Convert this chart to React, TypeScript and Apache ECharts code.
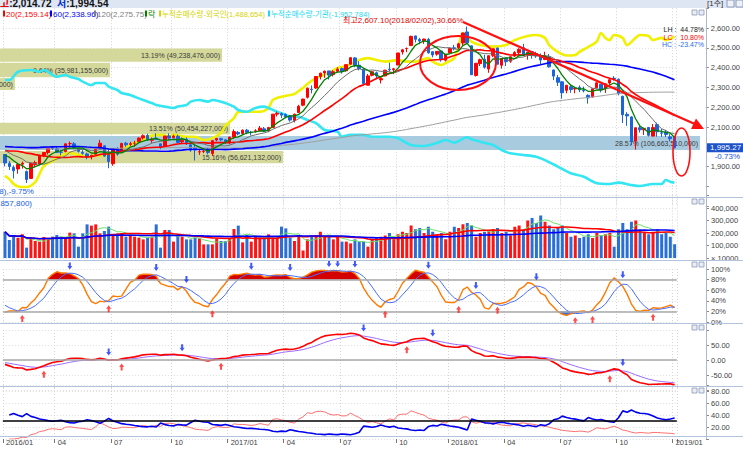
import React, { useEffect, useRef } from "react";
import * as echarts from "echarts";

// ---------- data ----------
const FIRST_WEEK = "2016-01-04";
const LAST_WEEK = "2018-12-31";
const CLOSED_WEEKS = ["2017-10-02"];

const openP = [
  1961,1916,1896,1888,1912,1875,1840,1910,1913,1955,
  1971,1994,1990,1973,1976,2016,2015,1991,1972,1964,
  1950,1962,1990,2005,1960,1915,1991,1977,2018,2012,
  2018,2025,2045,2057,2033,2043,2015,2002,2055,2046,
  2053,2025,2038,2010,1996,1974,1977,1985,1966,2034,
  2041,2035,2022,2049,2073,2067,2084,2072,2077,2082,
  2091,2081,2098,2165,2167,2163,2156,2133,2173,2210,
  2250,2291,2297,2355,2373,2383,2365,2381,2395,2384,
  2417,2449,2412,2393,2311,2361,2374,2338,2358,2392,
  2389,2413,2479,2496,2511,2560,2542,2535,2542,2480,
  2468,2484,2437,2474,2500,2500,2524,2580,2510,2360,
  2420,2442,2393,2462,2499,2412,2448,2432,2458,2475,
  2500,2466,2480,2470,2460,2441,2454,2388,2349,2328,
  2285,2303,2292,2300,2285,2260,2252,2298,2316,2293,
  2322,2346,2341,2255,2164,2151,2029,2096,2086,2098,
  2054,2112,2070,2075,2050,2050.55,
];
const highP = [
  1961,1928,1906,1912,1925,1880,1916,1930,1960,1971,
  1992,2002,2000,1985,2016,2027,2024,1995,1983,1970,
  1960,1989,2035,2007,1993,1988,1998,2020,2025,2025,
  2030,2048,2063,2066,2047,2068,2015,2056,2068,2061,
  2061,2047,2047,2016,2009,1990,1991,1994,2031,2045,
  2045,2038,2050,2088,2080,2087,2090,2080,2089,2105,
  2100,2101,2165,2178,2173,2169,2161,2167,2212,2243,
  2299,2310,2355,2374,2385,2383,2387,2402,2400,2415,
  2452,2453,2432,2397,2368,2382,2380,2352,2389,2425,
  2398,2474,2492,2501,2561,2561,2550,2546,2550,2483,
  2483,2489,2468,2500,2515,2525,2575,2607.1,2510,2422,
  2445,2465,2462,2494,2500,2447,2450,2455,2483,2498,
  2520,2478,2483,2480,2471,2480,2469,2390,2363,2332,
  2312,2310,2300,2310,2304,2265,2293,2325,2316,2320,
  2340,2357,2345,2258,2175,2154,2097,2108,2096,2099,
  2115,2122,2090,2086,2064,2053.45,
];
const lowP = [
  1901,1883,1840,1864,1890,1817,1838,1896,1908,1948,
  1961,1983,1970,1957,1972,1995,1990,1971,1960,1937,
  1936,1960,1988,1950,1892,1904,1955,1975,2000,2004,
  2000,2023,2037,2031,2020,2035,1988,2000,2035,2042,
  2020,2016,2009,1975,1931,1959,1968,1962,1954,2028,
  2028,2015,2012,2040,2058,2060,2063,2058,2072,2078,
  2075,2074,2096,2153,2145,2145,2127,2123,2173,2205,
  2244,2270,2292,2340,2348,2340,2355,2377,2370,2380,
  2415,2403,2386,2318,2311,2356,2341,2320,2356,2381,
  2367,2413,2466,2478,2509,2527,2518,2520,2470,2452,
  2460,2430,2431,2474,2487,2493,2510,2522,2363,2355,
  2408,2395,2374,2453,2416,2395,2408,2424,2454,2465,
  2459,2440,2445,2449,2416,2438,2400,2337,2307,2243,
  2270,2273,2270,2276,2275,2218,2248,2296,2275,2272,
  2313,2334,2260,2120,2106,2008,1986,2072,2060,2052,
  2053,2051,2050,2049,2027,1992,
];
const closeP = [
  1918,1900,1879,1912,1917,1835,1916,1920,1955,1971,
  1992,1992,1972,1972,2015,2016,1994,1977,1967,1948,
  1957,1986,2018,1953,1926,1987,1963,2017,2010,2016,
  2018,2044,2056,2038,2038,2038,1999,2054,2044,2054,
  2022,2033,2019,1983,1984,1975,1979,1971,2031,2042,
  2035,2026,2049,2077,2065,2084,2073,2072,2081,2094,
  2079,2097,2165,2169,2160,2152,2135,2165,2205,2241,
  2296,2289,2355,2372,2382,2362,2379,2392,2380,2415,
  2450,2410,2395,2320,2358,2379,2358,2344,2387,2389,
  2394,2474,2490,2497,2558,2543,2534,2544,2475,2464,
  2482,2440,2467,2497,2496,2520,2575,2525,2364,2422,
  2440,2402,2460,2495,2417,2446,2430,2455,2476,2492,
  2461,2478,2461,2461,2438,2452,2404,2357,2326,2273,
  2311,2289,2295,2288,2283,2247,2293,2323,2288,2318,
  2339,2343,2268,2162,2156,2027,2096,2086,2092,2058,
  2097,2076,2069,2062,2041,1995.27,
];
// weekly volume, in units of 10,000 shares
const volume = [
  210000,144000,178000,162000,190000,83000,157000,136000,131000,168000,
  152000,171000,184000,171000,152000,203000,197000,91000,197000,269000,
  259000,269000,197000,216000,251000,189000,197000,197000,171000,179000,
  171000,163000,149000,163000,171000,269000,83000,224000,224000,131000,
  184000,171000,149000,149000,163000,157000,109000,109000,109000,157000,
  136000,136000,157000,232000,259000,125000,184000,131000,179000,163000,
  163000,189000,163000,163000,251000,237000,163000,136000,184000,60000,
  149000,184000,184000,210000,171000,171000,149000,171000,131000,131000,
  117000,149000,131000,131000,91000,150000,160000,170000,180000,200000,
  150000,190000,210000,200000,260000,230000,240000,200000,250000,210000,
  190000,200000,150000,210000,250000,240000,270000,280000,260000,170000,
  200000,210000,220000,230000,240000,200000,210000,180000,250000,260000,
  230000,300000,320000,280000,340000,290000,260000,230000,240000,260000,
  200000,170000,180000,160000,170000,190000,160000,200000,180000,190000,
  200000,90000,230000,280000,230000,290000,300000,230000,200000,190000,
  210000,230000,190000,200000,170000,110000,
];
// weekly closes before the first visible week (2013-09 .. 2015-12), used by the moving averages
const histClose = [
  1933,1953,2009,2007,1997,2018,2040,2052,2040,2039,2001,2019,2044,1986,1990,1975,2011,1967,
  1958,1946,1947,1910,1907,1930,1940,1980,1954,1932,1939,1970,1985,1997,2006,2004,1963,
  1959,2010,2016,2017,1995,2011,1990,2002,2010,2009,2012,2033,2073,2031,2060,2066,2068,
  2051,2047,2048,2020,1976,1968,1940,1931,1964,1939,1953,1970,1981,1965,1921,1930,1927,1915,
  1902,1888,1952,1950,1948,1952,1961,1985,1998,1985,2037,2031,2029,2050,2087,2144,2127,
  2105,2106,2143,2114,2055,2052,2042,2090,2053,2031,2074,2073,2031,2011,1983,1876,1937,1886,
  1941,1996,1942,1963,2019,2034,2040,2029,2043,1998,1990,2022,1991,1948,1969,1990,1961,
];
// cumulative net buying (drawn on their own hidden scale): [week index, level]
const foreignNet = [
  [0,1853],[1,1837],[2,1812],[3,1800],[5,1797],[7,1822],[8,1863],[9,1903],[11,1928],[13,1956],
  [15,1969],[17,1959],[19,1950],[21,1956],[24,1959],[26,1969],[28,1999],[30,2019],[32,2034],[33,2051],
  [36,2060],[38,2051],[39,2060],[42,2051],[44,2051],[46,2034],[48,2044],[50,2070],[51,2105],[53,2145],
  [54,2176],[56,2177],[59,2177],[61,2196],[62,2236],[64,2253],[67,2267],[68,2282],[69,2297],[70,2317],
  [72,2347],[75,2373],[77,2398],[79,2408],[82,2438],[84,2448],[86,2438],[88,2430],[91,2438],[93,2430],
  [95,2430],[98,2448],[99,2430],[101,2413],[102,2423],[104,2448],[105,2506],[106,2575],[107,2556],[108,2531],
  [110,2514],[113,2506],[116,2514],[118,2539],[121,2560],[123,2565],[125,2550],[126,2514],[128,2479],[130,2461],
  [132,2464],[133,2479],[135,2504],[137,2531],[138,2575],[139,2550],[140,2539],[141,2565],[143,2550],[144,2514],
  [146,2550],[147,2565],[149,2560],[150,2539],[152,2550],[153,2539],[155,2556],
];
const instNet = [
  [0,2337],[1,2337],[3,2379],[6,2388],[8,2379],[9,2388],[11,2363],[12,2354],[14,2363],[15,2354],
  [17,2342],[18,2329],[20,2312],[21,2322],[23,2322],[24,2304],[26,2287],[27,2272],[29,2262],[30,2253],
  [32,2236],[34,2221],[35,2211],[37,2203],[39,2196],[40,2203],[42,2211],[43,2228],[45,2236],[47,2228],
  [48,2236],[50,2228],[51,2221],[53,2203],[54,2186],[56,2177],[58,2196],[60,2203],[61,2196],[63,2177],
  [65,2161],[66,2152],[68,2152],[70,2135],[72,2120],[74,2085],[77,2076],[78,2051],[80,2060],[83,2060],
  [85,2051],[89,2051],[91,2043],[94,2009],[97,2004],[100,2019],[102,2034],[104,2021],[107,2048],[108,2038],
  [110,2026],[113,2009],[115,1984],[117,1967],[120,1959],[123,1950],[125,1933],[128,1900],[131,1866],[134,1849],
  [137,1816],[140,1812],[142,1819],[145,1807],[147,1802],[150,1812],[152,1812],[153,1832],[154,1824],[155,1819],
];
// volume-at-price profile: price range, share of turnover, amount, drawn length (share units)
const profLow = [2430, 2351, 2287, 2063, 1984, 1917];
const profHigh = [2497, 2425, 2347, 2122, 2055, 1979];
const profPct = [13.19, 9.64, 7.84, 13.51, 28.57, 15.16];
const profAmt = ["49,238,476,000", "35,981,155,000", "29,262,180,000", "50,454,227,000", "106,663,510,000", "56,621,132,000"];
const profLen = [9.06, 4.49, 0.61, 9.39, 28.57, 11.55];

const PERIOD_LOW = 1800.75;
const PERIOD_LOW_DATE = "2015/08/28";
const DAY_CHANGE = "-0.73%";
const HEADER_HIGH = "2,014.72";
const HEADER_LOW = "1,994.54";
const LEGEND = [
  { text: "20(2,159.14)", color: "#ff0000" },
  { text: "60(2,338.96)", color: "#0000ff" },
  { text: "120(2,275.75)", color: "#808080" },
  { text: "락", color: "#008000" },
  { text: "누적순매수량-외국인(1,488,654)", color: "#d4d400" },
  { text: "누적순매수량-기관(-1,952,784)", color: "#22d8f0" },
];
const VOLUME_LEGEND = "거래량(213,857,800)";

// ---------- helpers ----------
const FONT = '"Liberation Sans","Noto Sans CJK KR",sans-serif';

function buildWeeks(): string[] {
  const out: string[] = [];
  const d = new Date(FIRST_WEEK + "T00:00:00Z");
  const end = new Date(LAST_WEEK + "T00:00:00Z");
  while (d <= end) {
    const s = d.toISOString().slice(0, 10);
    if (!CLOSED_WEEKS.includes(s)) out.push(s);
    d.setUTCDate(d.getUTCDate() + 7);
  }
  return out;
}
const weeks = buildWeeks();
const friday = (s: string) => {
  const d = new Date(s + "T00:00:00Z");
  d.setUTCDate(d.getUTCDate() + 4);
  return d;
};
const fmon = (i: number) => friday(weeks[i]).getUTCMonth() + 1;
const isQuarterTick = (i: number) => {
  if (i === 0) return true;
  const m = fmon(i);
  return m !== fmon(i - 1) && (m === 1 || m === 4 || m === 7 || m === 10);
};
const tickLabel = (i: number) => {
  const f = friday(weeks[i]);
  const m = f.getUTCMonth() + 1;
  return m === 1 ? `${f.getUTCFullYear()}/01` : String(m).padStart(2, "0");
};
const fmtN = (v: number, d = 2) =>
  v.toLocaleString("en-US", { minimumFractionDigits: d, maximumFractionDigits: d });

const H0 = histClose.length;
const allC = histClose.concat(closeP);
const allH = histClose.concat(highP);
const allL = histClose.concat(lowP);
function smaAt(arr: number[], n: number, i: number) {
  let s = 0, c = 0;
  for (let k = Math.max(0, i - n + 1); k <= i; k++) { s += arr[k]; c++; }
  return s / c;
}
const priceMA = (n: number) => closeP.map((_, j) => +smaAt(allC, n, H0 + j).toFixed(2));
const volMA = (n: number) => volume.map((_, j) => Math.round(smaAt(volume, n, j)));
function ema(arr: number[], n: number) {
  const a = 2 / (n + 1);
  const out: number[] = [];
  arr.forEach((v, i) => out.push(i === 0 ? v : out[i - 1] + a * (v - out[i - 1])));
  return out;
}
// slow stochastic (10,5,5)
const fastK = allC.map((c, i) => {
  let hh = -Infinity, ll = Infinity;
  for (let k = Math.max(0, i - 9); k <= i; k++) { hh = Math.max(hh, allH[k]); ll = Math.min(ll, allL[k]); }
  return hh === ll ? 50 : ((c - ll) / (hh - ll)) * 100;
});
const slowKAll = fastK.map((_, i) => smaAt(fastK, 5, i));
const slowDAll = slowKAll.map((_, i) => smaAt(slowKAll, 5, i));
const stK = slowKAll.slice(H0).map((v) => +v.toFixed(2));
const stD = slowDAll.slice(H0).map((v) => +v.toFixed(2));
// MACD (12,26,9)
const e12 = ema(allC, 12), e26 = ema(allC, 26);
const macdAll = e12.map((v, i) => v - e26[i]);
const sigAll = ema(macdAll, 9);
const macd = macdAll.slice(H0).map((v) => +v.toFixed(2));
const macdSig = sigAll.slice(H0).map((v) => +v.toFixed(2));
// DMI (14)
const pDI: (number | null)[] = [null], mDI: (number | null)[] = [null];
{
  const n = 14;
  let trS = 0, pS = 0, mS = 0;
  for (let i = 1; i < closeP.length; i++) {
    const up = highP[i] - highP[i - 1], dn = lowP[i - 1] - lowP[i];
    const pdm = up > dn && up > 0 ? up : 0;
    const mdm = dn > up && dn > 0 ? dn : 0;
    const tr = Math.max(highP[i] - lowP[i], Math.abs(highP[i] - closeP[i - 1]), Math.abs(lowP[i] - closeP[i - 1]));
    if (i === 1) { trS = tr * n; pS = pdm * n; mS = mdm * n; }
    else { trS = trS - trS / n + tr; pS = pS - pS / n + pdm; mS = mS - mS / n + mdm; }
    pDI.push(+((100 * pS) / trS).toFixed(2));
    mDI.push(+((100 * mS) / trS).toFixed(2));
  }
}
function crosses(a: number[], b: number[], hiGate: number, loGate: number) {
  const dn: number[][] = [], up: number[][] = [];
  for (let i = 1; i < a.length; i++) {
    if (a[i - 1] >= b[i - 1] && a[i] < b[i] && a[i] > hiGate) dn.push([i, Math.max(a[i - 1], b[i - 1])]);
    if (a[i - 1] <= b[i - 1] && a[i] > b[i] && a[i] < loGate) up.push([i, Math.min(a[i - 1], b[i - 1])]);
  }
  return { dn, up };
}
const stX = crosses(stK, stD, 50, 50);
const mcX = crosses(macd, macdSig, -1e9, 1e9);

const ARROW = "path://M5,0 L10,6 L7,6 L7,12 L3,12 L3,6 L0,6 Z";

// ---------- layout ----------
const GL = 2.84, GR = 66.2;
const AXIS_OFF = 29.2;
const BAND_FULL = 700;

export default function App() {
  const ref = useRef<HTMLDivElement>(null);
  useEffect(() => {
    const chart = echarts.init(ref.current!, null, { renderer: "svg" });
    const N = weeks.length;
    const ma5 = priceMA(5), ma10 = priceMA(10), ma20 = priceMA(20), ma60 = priceMA(60), ma120 = priceMA(120);
    const lastClose = closeP[N - 1];
    const maxHigh = Math.max(...highP);
    const maxIdx = highP.indexOf(maxHigh);
    const maxDate = friday(weeks[maxIdx]).toISOString().slice(0, 10).replace(/-/g, "/");
    const maxLabel = `최고${fmtN(maxHigh)}(${maxDate}),${((maxHigh / lastClose - 1) * 100).toFixed(2)}%`;
    const minLabel = `최저${fmtN(PERIOD_LOW)}(${PERIOD_LOW_DATE}),${((PERIOD_LOW / lastClose - 1) * 100).toFixed(2)}%`;
    const LH = ((maxHigh / PERIOD_LOW - 1) * 100).toFixed(2);
    const LC = ((lastClose / PERIOD_LOW - 1) * 100).toFixed(2);
    const HC = ((lastClose / maxHigh - 1) * 100).toFixed(2);

    const grids = [
      { left: GL, right: GR, top: 8.2, height: 198 },
      { left: GL, right: GR, top: 195.5, height: 62.5 },
      { left: GL, right: GR, top: 269, height: 53 },
      { left: GL, right: GR, top: 330, height: 60 },
      { left: GL, right: GR, top: 385, height: 54 },
    ];
    const xAxes = grids.map((_, g) => ({
      type: "category",
      gridIndex: g,
      data: weeks,
      boundaryGap: true,
      axisLine: { show: false },
      axisTick: g === 4 ? { show: true, interval: (i: number) => isQuarterTick(i), length: 4, lineStyle: { color: "#777" } } : { show: false },
      axisLabel: g === 4
        ? { show: true, interval: (i: number) => isQuarterTick(i), formatter: (_v: string, i: number) => tickLabel(i), align: "left", margin: 0, padding: [0, 0, 0, 1], fontSize: 7.5, color: "#444", fontFamily: FONT }
        : { show: false },
      splitLine: { show: true, interval: (i: number) => isQuarterTick(i), lineStyle: { color: "#d4d4d4", type: [1, 2], width: 1 } },
    }));
    const rightAxis = (g: number, min: number, max: number, interval: number, fmt: (v: number) => string, splitColors?: string[]) => ({
      type: "value",
      gridIndex: g,
      position: "right",
      offset: AXIS_OFF,
      min, max, interval,
      axisLine: { show: true, lineStyle: { color: "#aab8d0" } },
      axisTick: { show: true, length: 3, lineStyle: { color: "#888" } },
      axisLabel: { fontSize: 7.5, color: "#444", margin: 5, fontFamily: FONT, formatter: fmt },
      splitLine: { show: true, lineStyle: { color: splitColors || "#dcdcdc", type: [1, 2] } },
    });
    const mainSplit = ["transparent", "#dcdcdc", "#dcdcdc", "#dcdcdc", "#dcdcdc", "#dcdcdc", "#dcdcdc", "#dcdcdc", "#dcdcdc", "#dcdcdc", "transparent"];
    const yAxes = [
      rightAxis(0, 1700, 2700, 100, (v) => (v <= 1800 || v >= 2700 || v === 2000 ? "" : fmtN(v)), mainSplit),
      { type: "value", gridIndex: 0, min: 1700, max: 2700, show: false },
      rightAxis(1, 0, 500000, 100000, (v) => (v === 0 ? "× 10000" : v >= 500000 ? "" : fmtN(v, 0))),
      rightAxis(2, 0, 100, 20, (v) => `${v}%`),
      rightAxis(3, -100, 100, 50, (v) => (Math.abs(v) >= 100 ? "" : fmtN(v))),
      rightAxis(4, 0, 90, 20, (v) => (v === 0 || v > 80 ? "" : fmtN(v))),
    ];

    const line = (name: string, data: any[], xi: number, yi: number, color: string, width: number, z = 4, extra: any = {}) => ({
      name, type: "line", data, xAxisIndex: xi, yAxisIndex: yi, showSymbol: false, z,
      lineStyle: { color, width }, itemStyle: { color }, silent: true, ...extra,
    });

    const bandData = profLow.map((lo, i) => [0, lo, profHigh[i], profLen[i], i]);
    const maxPct = Math.max(...profPct);

    const series: any[] = [
      {
        type: "custom", xAxisIndex: 0, yAxisIndex: 0, z: 1, clip: false, silent: true,
        data: bandData, encode: { x: 0, y: 1 },
        renderItem: (_p: any, api: any) => {
          const i = api.value(4);
          const yTop = api.coord([0, api.value(2)])[1];
          const yBot = api.coord([0, api.value(1)])[1];
          const w = (api.value(3) / maxPct) * BAND_FULL;
          return {
            type: "group",
            children: [
              { type: "rect", shape: { x: 0, y: yTop, width: w, height: yBot - yTop }, style: { fill: profPct[i] === maxPct ? "#a9cbe0" : "#d4d99b" } },
              { type: "text", style: { text: `${profPct[i].toFixed(2)}% (${profAmt[i]})`, x: w - 2, y: (yTop + yBot) / 2 + 0.5, align: "right", verticalAlign: "middle", fill: "#3a3a3a", font: `7px ${FONT}` } },
            ],
          };
        },
      },
      line("foreign", foreignNet, 0, 1, "#f0f000", 2.6, 2, { smooth: 0.3 }),
      line("inst", instNet, 0, 1, "#33e6f2", 2.6, 2, { smooth: 0.3 }),
      {
        type: "candlestick", xAxisIndex: 0, yAxisIndex: 0, z: 3, barWidth: 3,
        data: closeP.map((c, i) => [openP[i], c, lowP[i], highP[i]]),
        itemStyle: { color: "#ff0000", color0: "#1a64dc", borderColor: "#ff0000", borderColor0: "#1a64dc", borderWidth: 1 },
        markPoint: {
          symbol: "circle", symbolSize: 1, itemStyle: { color: "transparent" },
          data: [{ coord: [maxIdx, maxHigh], label: { show: true, formatter: maxLabel, position: "left", distance: 3, offset: [0, -6], color: "#e00000", fontSize: 8, fontFamily: FONT } }],
        },
      },
      line("ma120", ma120, 0, 0, "#a0a0a0", 1, 4),
      line("ma60", ma60, 0, 0, "#0000ff", 1.6, 4),
      line("ma20", ma20, 0, 0, "#ff0000", 1.6, 4),
      line("ma10", ma10, 0, 0, "#6e6e6e", 1, 4),
      line("ma5", ma5, 0, 0, "#008000", 1.3, 5),
      {
        type: "bar", xAxisIndex: 1, yAxisIndex: 2, barWidth: 3, z: 2, silent: true,
        data: volume.map((v, i) => ({ value: v, itemStyle: { color: closeP[i] >= openP[i] ? "#ff1414" : "#2a6fd6" } })),
      },
      line("vma5", volMA(5), 1, 2, "#6be06b", 1, 3),
      line("vma20", volMA(20), 1, 2, "#ff0000", 1.6, 3),
      line("vma60", volMA(60), 1, 2, "#0000ff", 1.6, 3),
      // stochastic fills
      line("hiBase", stK.map((v) => Math.min(v, 80)), 2, 3, "transparent", 0, 1, { stack: "hi" }),
      line("hiFill", stK.map((v) => Math.max(v - 80, 0)), 2, 3, "transparent", 0, 1, { stack: "hi", areaStyle: { color: "#d40000", opacity: 1 } }),
      line("loBase", stK.map((v) => Math.min(v, 20)), 2, 3, "transparent", 0, 1, { stack: "lo" }),
      line("loFill", stK.map((v) => Math.max(20 - v, 0)), 2, 3, "transparent", 0, 1, { stack: "lo", areaStyle: { color: "#3a6fe0", opacity: 1 } }),
      line("stK", stK, 2, 3, "#ff7a00", 1.4, 4, {
        markLine: { silent: true, symbol: "none", label: { show: false }, lineStyle: { color: "#a8a8a8", width: 1.5, type: "solid" }, data: [{ yAxis: 80 }, { yAxis: 20 }] },
      }),
      line("stD", stD, 2, 3, "#4a6cff", 1, 4),
      { type: "scatter", xAxisIndex: 2, yAxisIndex: 3, z: 6, symbol: ARROW, symbolSize: [5, 7], symbolRotate: 180, symbolOffset: [0, -7], itemStyle: { color: "#1030ff" }, data: stX.dn, silent: true },
      { type: "scatter", xAxisIndex: 2, yAxisIndex: 3, z: 6, symbol: ARROW, symbolSize: [5, 7], symbolOffset: [0, 7], itemStyle: { color: "#ff2020" }, data: stX.up, silent: true },
      line("macd", macd, 3, 4, "#ff0000", 1.6, 4, {
        markLine: { silent: true, symbol: "none", label: { show: false }, lineStyle: { color: "#a8a8a8", width: 1.5, type: "solid" }, data: [{ yAxis: 0 }] },
      }),
      line("signal", macdSig, 3, 4, "#9a6cff", 1, 3),
      { type: "scatter", xAxisIndex: 3, yAxisIndex: 4, z: 6, symbol: ARROW, symbolSize: [5, 7], symbolRotate: 180, symbolOffset: [0, -7], itemStyle: { color: "#1030ff" }, data: mcX.dn, silent: true },
      { type: "scatter", xAxisIndex: 3, yAxisIndex: 4, z: 6, symbol: ARROW, symbolSize: [5, 7], symbolOffset: [0, 7], itemStyle: { color: "#ff2020" }, data: mcX.up, silent: true },
      line("pdi", pDI, 4, 5, "#ff7070", 1, 3, {
        markLine: { silent: true, symbol: "none", label: { show: false }, lineStyle: { color: "#000", width: 1.5, type: "solid" }, data: [{ yAxis: 30 }] },
      }),
      line("mdi", mDI, 4, 5, "#0000ee", 1.6, 4),
    ];

    chart.setOption({
      animation: false,
      backgroundColor: "#ffffff",
      grid: grids,
      xAxis: xAxes,
      yAxis: yAxes,
      series,
    });

    const yLast = chart.convertToPixel({ yAxisIndex: 0 }, lastClose) as number;
    const sep = (y: number) => ({ type: "line", silent: true, z: 50, shape: { x1: 0, y1: y, x2: 743, y2: y }, style: { stroke: "#b4c3dc", lineWidth: 1 } });
    const btns = (y: number) => [
      { type: "rect", silent: true, z: 50, shape: { x: 692, y, width: 5, height: 5 }, style: { fill: "#e8ecf4", stroke: "#8a9ab8", lineWidth: 0.8 } },
      { type: "rect", silent: true, z: 50, shape: { x: 699, y, width: 5, height: 5 }, style: { fill: "#e8ecf4", stroke: "#8a9ab8", lineWidth: 0.8 } },
    ];
    const legendX = [6, 53, 97, 148, 162, 271];
    const legendFont = [8, 8, 8, 8, 7.5, 7.5];
    const graphics: any[] = [
      { type: "rect", silent: true, z: 40, shape: { x: 0, y: 0, width: 743, height: 8 }, style: { fill: "#dfe6f3" } },
      { type: "text", silent: true, z: 41, style: { x: 0, y: 3, verticalAlign: "middle", rich: { r: { fill: "#e00000", font: `bold 10px ${FONT}` }, b: { fill: "#0030d0", font: `bold 10px ${FONT}` }, k: { fill: "#111", font: `bold 10px ${FONT}` } }, text: `{r|고}{k|:${HEADER_HIGH}  }{b|저}{k|:${HEADER_LOW}}` } },
      { type: "text", silent: true, z: 41, style: { x: 707, y: 3.5, verticalAlign: "middle", text: "[1주]", fill: "#333", font: `8px ${FONT}` } },
      { type: "rect", silent: true, z: 41, shape: { x: 727, y: 0, width: 7, height: 7 }, style: { fill: "#eef1f7", stroke: "#7a8aa8", lineWidth: 0.8 } },
      { type: "rect", silent: true, z: 41, shape: { x: 736, y: 0, width: 7, height: 7 }, style: { fill: "#eef1f7", stroke: "#7a8aa8", lineWidth: 0.8 } },
      ...LEGEND.map((it, i) => ({
        type: "group", silent: true, z: 41,
        children: [
          { type: "rect", shape: { x: legendX[i] - 3, y: 10.5, width: 2, height: 6 }, style: { fill: it.color } },
          { type: "text", style: { x: legendX[i], y: 14, verticalAlign: "middle", text: it.text, fill: it.color, font: `${legendFont[i]}px ${FONT}` } },
        ],
      })),
      { type: "text", silent: true, z: 41, style: { x: 34, y: 191, align: "right", verticalAlign: "middle", text: minLabel, fill: "#2060e0", font: `8px ${FONT}` } },
      { type: "text", silent: true, z: 41, style: { x: 32, y: 203, align: "right", verticalAlign: "middle", text: VOLUME_LEGEND, fill: "#2060e0", font: `8px ${FONT}` } },
      { type: "text", silent: true, z: 41, style: { x: 704, y: 29.5, align: "right", verticalAlign: "middle", text: `LH :  ${LH}%`, fill: "#222", font: `7px ${FONT}` } },
      { type: "text", silent: true, z: 41, style: { x: 704, y: 37, align: "right", verticalAlign: "middle", text: `LC :  ${LC}%`, fill: "#ff0000", font: `7px ${FONT}` } },
      { type: "text", silent: true, z: 41, style: { x: 704, y: 44.5, align: "right", verticalAlign: "middle", text: `HC : ${HC}%`, fill: "#2a6cf0", font: `7px ${FONT}` } },
      // hand-drawn annotations
      { type: "ellipse", silent: true, z: 45, shape: { cx: 458, cy: 63, rx: 38, ry: 27 }, style: { fill: "none", stroke: "#ff1010", lineWidth: 2 } },
      { type: "ellipse", silent: true, z: 45, shape: { cx: 681.5, cy: 152, rx: 8.5, ry: 24 }, style: { fill: "none", stroke: "#ff1010", lineWidth: 1.6 } },
      { type: "line", silent: true, z: 45, shape: { x1: 463, y1: 22, x2: 696, y2: 124.5 }, style: { stroke: "#ff1010", lineWidth: 2.2 } },
      { type: "polygon", silent: true, z: 45, shape: { points: [[704, 129], [691, 129], [696, 118.5]] }, style: { fill: "#ff1010" } },
      // frame
      { type: "line", silent: true, z: 50, shape: { x1: 706.5, y1: 8, x2: 706.5, y2: 437 }, style: { stroke: "#aab8d0", lineWidth: 1 } },
      sep(197.5), sep(260.5), sep(323.5), sep(386.5), sep(436.5),
      ...btns(10), ...btns(199), ...btns(262), ...btns(325), ...btns(388),
      // current price box
      { type: "rect", silent: true, z: 55, shape: { x: 707, y: yLast - 4.5, width: 36, height: 9 }, style: { fill: "#1d52c8" } },
      { type: "text", silent: true, z: 56, style: { x: 710, y: yLast, verticalAlign: "middle", text: fmtN(lastClose), fill: "#fff", font: `8px ${FONT}` } },
      { type: "text", silent: true, z: 56, style: { x: 740, y: yLast + 9, align: "right", verticalAlign: "middle", text: DAY_CHANGE, fill: "#2050e0", font: `8px ${FONT}` } },
    ];
    chart.setOption({ graphic: graphics });

    return () => chart.dispose();
  }, []);
  return <div ref={ref} style={{ position: "fixed", left: 0, top: 0, width: 743, height: 450, background: "#fff" }} />;
}
